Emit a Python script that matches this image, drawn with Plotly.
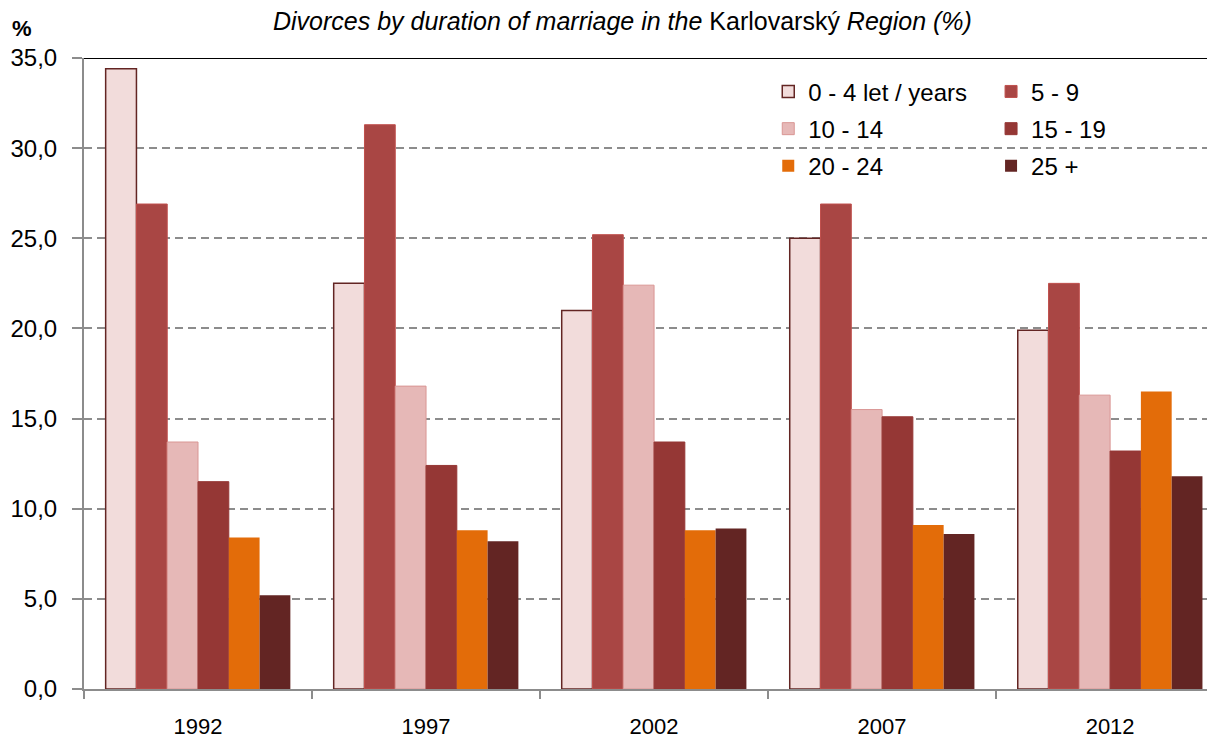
import plotly.graph_objects as go

years = ["1992", "1997", "2002", "2007", "2012"]
series_names = ["0 - 4 let / years", "5 - 9", "10 - 14", "15 - 19", "20 - 24", "25 +"]
v_0_4 = [34.4, 22.5, 21.0, 25.0, 19.9]
v_5_9 = [26.9, 31.3, 25.2, 26.9, 22.5]
v_10_14 = [13.7, 16.8, 22.4, 15.5, 16.3]
v_15_19 = [11.5, 12.4, 13.7, 15.1, 13.2]
v_20_24 = [8.4, 8.8, 8.8, 9.1, 16.5]
v_25p = [5.2, 8.2, 8.9, 8.6, 11.8]
y_ticks = [0, 5, 10, 15, 20, 25, 30, 35]

values = [v_0_4, v_5_9, v_10_14, v_15_19, v_20_24, v_25p]
fills = ["#F2DCDB", "#A94644", "#E6B8B7", "#953735", "#E36C09", "#632523"]
borders = ["#632523", "#C0504D", "#D99694", "#953735", "#E36C09", "#632523"]
bwidths = [1.5, 1, 1, 1, 0, 0]
legends = ["legend", "legend2", "legend", "legend2", "legend", "legend2"]

fig = go.Figure()
for i, name in enumerate(series_names):
    fig.add_trace(go.Bar(
        x=years, y=values[i], name=name,
        marker=dict(color=fills[i], line=dict(color=borders[i], width=bwidths[i])),
        legend=legends[i], legendgroup=name,
    ))

font_family = "Liberation Sans, Arial, sans-serif"
fig.update_layout(
    width=1207, height=732,
    margin=dict(l=76, r=0, t=50, b=51),
    plot_bgcolor="white", paper_bgcolor="white",
    barmode="group", bargap=0.19, bargroupgap=0,
    separators=",.",
    font=dict(family=font_family, size=22, color="#000000"),
    showlegend=True,
    legend=dict(x=0.605, y=0.982, xanchor="left", yanchor="top",
                bgcolor="rgba(0,0,0,0)", tracegroupgap=3,
                font=dict(size=24), itemwidth=30),
    legend2=dict(x=0.802, y=0.982, xanchor="left", yanchor="top",
                 bgcolor="rgba(0,0,0,0)", tracegroupgap=3,
                 font=dict(size=24), itemwidth=30),
    xaxis=dict(
        type="category", range=[-0.5, 4.46], automargin=False,
        showline=True, linecolor="#8C8C8C", linewidth=2,
        ticks="outside", tickson="boundaries", ticklen=8, tickcolor="#8C8C8C", tickwidth=2,
        ticklabelstandoff=17, showgrid=False,
        tickfont=dict(size=22),
    ),
    yaxis=dict(
        range=[0, 35], tickvals=y_ticks, tickformat=".1f", automargin=False,
        showline=True, linecolor="#8C8C8C", linewidth=2,
        ticks="outside", ticklen=10, tickcolor="#8C8C8C", tickwidth=2,
        ticklabelstandoff=10,
        showgrid=True, gridcolor="#8C8C8C", gridwidth=2, griddash="8px,5px",
        zeroline=False, tickfont=dict(size=24),
    ),
    shapes=[dict(type="line", xref="paper", yref="y", x0=0, x1=1, y0=35, y1=35,
                 line=dict(color="#000000", width=2))],
    annotations=[
        dict(text="<i>Divorces by duration of marriage in the</i> Karlovarský <i>Region (%)</i>",
             xref="paper", yref="paper", x=(622 - 84) / 1131, y=1.0, yshift=37,
             xanchor="center", yanchor="middle", showarrow=False,
             font=dict(size=25, family=font_family)),
        dict(text="<b>%</b>", xref="paper", yref="paper", x=0, xshift=-62, y=1.0, yshift=30,
             xanchor="center", yanchor="middle", showarrow=False,
             font=dict(size=22, family=font_family)),
    ],
)

fig.write_html("out.html")
